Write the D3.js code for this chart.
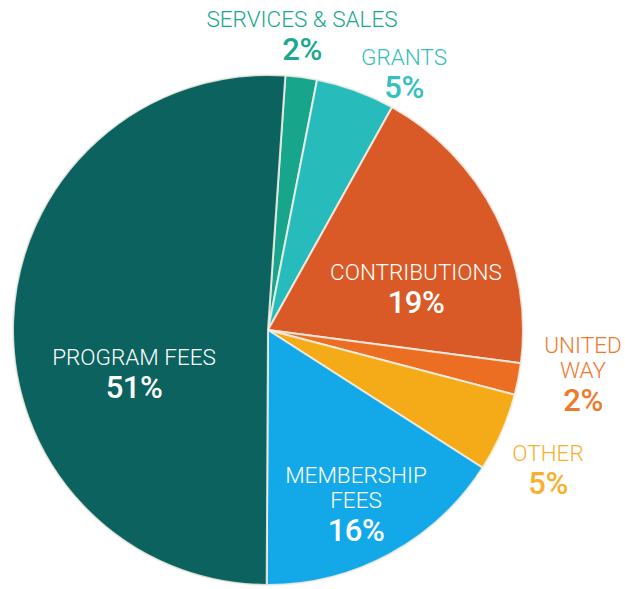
<!DOCTYPE html>
<meta charset="utf-8">
<script src="https://d3js.org/d3.v7.min.js"></script>
<style>
body { margin: 0; background: #fff; }
text { font-family: Roboto, "Open Sans", sans-serif; }
</style>
<body>
<div id="chart"></div>
<script>

// data, clockwise from the top
const categories = ["SERVICES & SALES", "GRANTS", "CONTRIBUTIONS", "UNITED WAY", "OTHER", "MEMBERSHIP FEES", "PROGRAM FEES"];
const values = [2, 5, 19, 2, 5, 16, 51];
const colors = ["#17a58b", "#27bcbb", "#d95a27", "#ec6e22", "#f5ab18", "#13a9e9", "#0b625e"];
const labelColors = ["#1aa88f", "#35c0c0", "#fff", "#ef7a2e", "#f7b12e", "#fff", "#fff"];
// label lines and anchor for each slice
const labelLines = [["SERVICES & SALES"], ["GRANTS"], ["CONTRIBUTIONS"], ["UNITED", "WAY"], ["OTHER"], ["MEMBERSHIP", "FEES"], ["PROGRAM FEES"]];
const labelPos = [[302, 27], [404, 65], [416, 280], [583, 353], [548, 461], [356, 483], [134, 365]];

const width = 625, height = 589;
const cx = 268, cy = 330, radius = 255;

const svg = d3.select("#chart")
  .append("svg")
    .attr("width", width)
    .attr("height", height);

const pie = d3.pie()
  .sort(null)
  .value(d => d)
  .startAngle(3.9 * Math.PI / 180)
  .endAngle(3.9 * Math.PI / 180 + 2 * Math.PI);

const arc = d3.arc()
  .innerRadius(0)
  .outerRadius(radius);

const g = svg.append("g")
  .attr("transform", `translate(${cx},${cy})`);

g.selectAll("path")
  .data(pie(values))
  .join("path")
    .attr("d", arc)
    .attr("fill", (d, i) => colors[i])
    .attr("stroke", "#f4f0e8")
    .attr("stroke-opacity", 0.85)
    .attr("stroke-width", 2)
    .attr("stroke-linejoin", "round");

// labels
const labels = svg.selectAll("g.label")
  .data(categories)
  .join("g")
    .attr("class", "label")
    .attr("transform", (d, i) => `translate(${labelPos[i][0]},${labelPos[i][1]})`)
    .attr("fill", (d, i) => labelColors[i])
    .attr("text-anchor", "middle");

labels.each(function(d, i) {
  const sel = d3.select(this);
  labelLines[i].forEach((line, j) => {
    sel.append("text")
      .attr("y", j * 25)
      .style("font-size", "22.5px")
      .style("font-weight", 300)
      .text(line);
  });
  sel.append("text")
    .attr("y", (labelLines[i].length - 1) * 25 + 32.5)
    .style("font-size", "31px")
    .style("font-weight", 500)
    .style("letter-spacing", "-0.5px")
    .text(values[i] + "%");
});

</script>
</body>
